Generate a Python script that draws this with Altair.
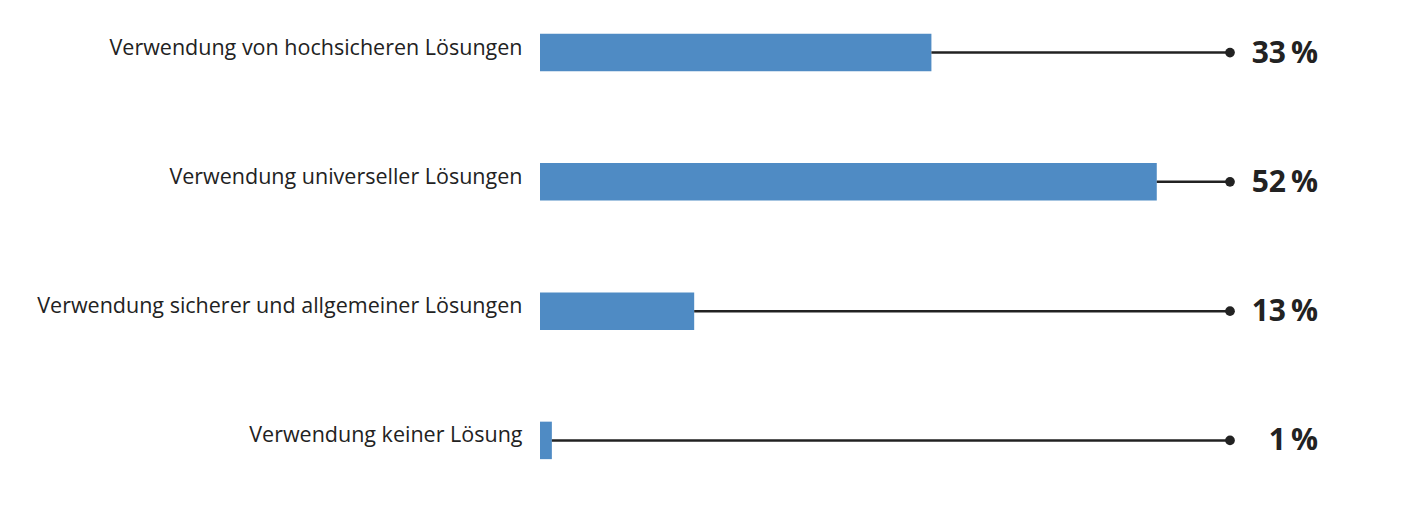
import altair as alt
import pandas as pd

categories = [
    "Verwendung von hochsicheren Lösungen",
    "Verwendung universeller Lösungen",
    "Verwendung sicherer und allgemeiner Lösungen",
    "Verwendung keiner Lösung",
]
values = [33, 52, 13, 1]
labels = ["33\u2009%", "52\u2009%", "13\u2009%", "1\u2009%"]

df = pd.DataFrame({"category": categories, "value": values, "label": labels})

FONT = "Open Sans"
DARK = "#222222"
BLUE = "#4f8bc4"

y = alt.Y(
    "category:N",
    sort=categories,
    scale=alt.Scale(paddingInner=0.71, paddingOuter=0.2),
    axis=alt.Axis(
        title=None,
        domain=False,
        ticks=False,
        labelFont=FONT,
        labelFontSize=21.5,
        labelColor=DARK,
        labelPadding=18,
        labelOffset=-4,
        labelLimit=600,
        labelBaseline="middle",
    ),
)
x = alt.X("value:Q", scale=alt.Scale(domain=[0, 72], nice=False), axis=None)

base = alt.Chart(df)

bars = base.mark_bar(color=BLUE).encode(x=x, y=y)
rules = base.mark_rule(color=DARK, strokeWidth=2.5).encode(
    x=x, x2=alt.value(690), y=alt.Y("category:N", sort=categories)
)
dots = base.mark_circle(color=DARK, opacity=1, size=95).encode(
    x=alt.value(690), y=alt.Y("category:N", sort=categories)
)
texts = base.mark_text(
    font=FONT, fontSize=30, fontWeight="bold", color=DARK, align="right", baseline="middle", dy=1
).encode(x=alt.value(778), y=alt.Y("category:N", sort=categories), text="label:N")

chart = (
    alt.layer(bars, rules, dots, texts)
    .properties(
        width=854,
        height=477,
        background="white",
        autosize=alt.AutoSizeParams(type="none"),
        padding={"left": 532, "top": 0, "right": 0, "bottom": 39},
    )
    .configure_view(strokeWidth=0, stroke="transparent")
)

chart.save("out.html", embed_options={"renderer": "svg", "actions": False})
